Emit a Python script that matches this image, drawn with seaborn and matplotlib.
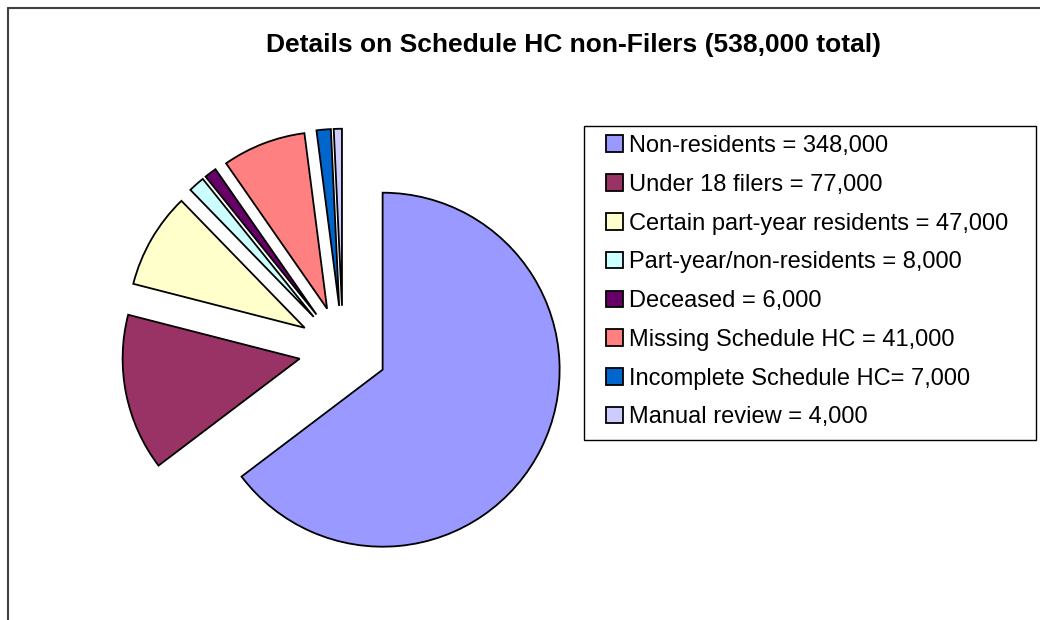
import matplotlib
matplotlib.use("Agg")
import matplotlib.pyplot as plt
import seaborn as sns
from matplotlib.lines import Line2D
from matplotlib.patches import Rectangle

# slices in clockwise order from 12 o'clock
labels = [
    "Non-residents = 348,000",
    "Under 18 filers = 77,000",
    "Certain part-year residents = 47,000",
    "Part-year/non-residents = 8,000",
    "Deceased = 6,000",
    "Missing Schedule HC = 41,000",
    "Incomplete Schedule HC= 7,000",
    "Manual review = 4,000",
]
values = [348000, 77000, 47000, 8000, 6000, 41000, 7000, 4000]
colors = ["#9999FF", "#993366", "#FFFFCC", "#CCFFFF",
          "#660066", "#FF8080", "#0066CC", "#CCCCFF"]

sns.set_theme(style="white")
plt.rcParams["font.family"] = ["Liberation Sans", "DejaVu Sans"]
plt.rcParams["text.color"] = "black"

W, H = 1040, 620
fig = plt.figure(figsize=(W / 100, H / 100), dpi=100)

# pie centre at (343, 350) px, radius ~177 px
ax = fig.add_axes([77.5 / W, 4.5 / H, 531 / W, 531 / H])
wedges, _ = ax.pie(values, colors=colors, startangle=90, counterclock=False,
                   explode=[0.25] * len(values),
                   wedgeprops=dict(edgecolor="black", linewidth=1.3))
ax.set_xlim(-1.5, 1.5)
ax.set_ylim(-1.5, 1.5)
ax.set_aspect("equal")
ax.axis("off")

fig.text(573 / W, 1 - 51.7 / H, "Details on Schedule HC non-Filers (538,000 total)",
         ha="center", va="baseline", fontsize=19, fontweight="bold", color="black")

fig.legend(wedges, labels, loc="upper left",
           bbox_to_anchor=(606 / W, 1 - 135 / H),
           frameon=False, fontsize=17,
           handlelength=0.72, handleheight=0.7, handletextpad=0.25,
           labelspacing=0.71, borderpad=0, borderaxespad=0)

# legend box
fig.patches.append(Rectangle((584 / W, 1 - 440 / H), (1036 - 584) / W, (440 - 126) / H,
                             transform=fig.transFigure, fill=False,
                             edgecolor="black", linewidth=1))

# chart area border (left and top visible)
fig.lines.append(Line2D([7.5 / W, 7.5 / W], [0, 1 - 7.5 / H], transform=fig.transFigure,
                        color="#404040", linewidth=1.5))
fig.lines.append(Line2D([7.5 / W, 1], [1 - 7.5 / H, 1 - 7.5 / H], transform=fig.transFigure,
                        color="#404040", linewidth=1.5))

fig.savefig("out.png", dpi=100)
